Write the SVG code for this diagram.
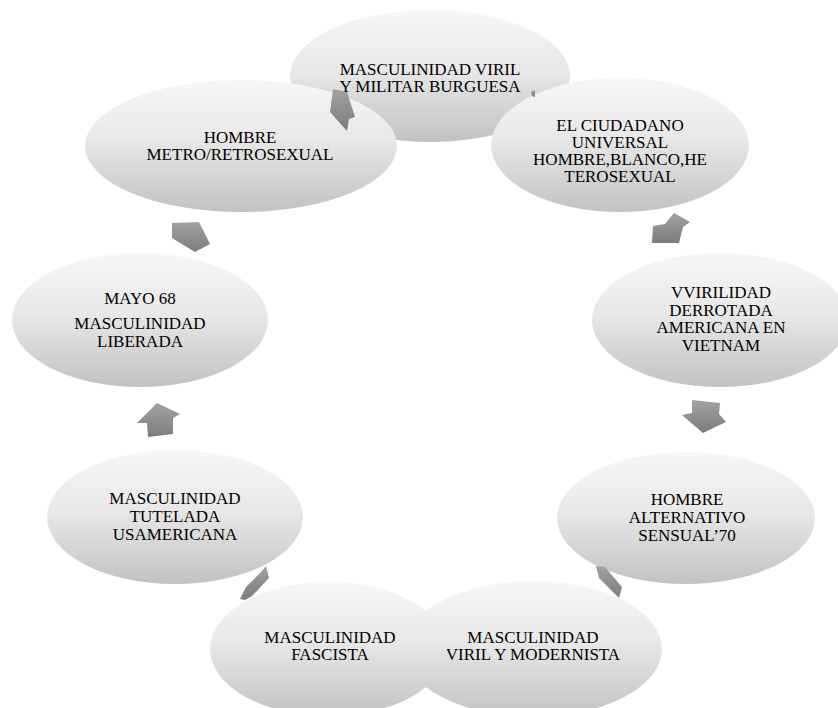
<svg xmlns="http://www.w3.org/2000/svg" width="838" height="708" viewBox="0 0 838 708">
  <defs>
    <linearGradient id="nodeFill" x1="0" y1="0" x2="0" y2="1">
      <stop offset="0" stop-color="#f7f7f7"/>
      <stop offset="0.45" stop-color="#e8e8e8"/>
      <stop offset="1" stop-color="#c2c2c2"/>
    </linearGradient>
    <linearGradient id="arrowFill" x1="0" y1="0" x2="0" y2="1">
      <stop offset="0" stop-color="#a2a2a2"/>
      <stop offset="1" stop-color="#7c7c7c"/>
    </linearGradient>
    <style>
      .node ellipse { fill: url(#nodeFill); stroke: none; }
      .node text { font-family: "Liberation Serif", "Times New Roman", serif; font-size: 17px; fill: #000; text-anchor: middle; }
      .arrow { fill: url(#arrowFill); stroke: none; }
    </style>
  </defs>

  <rect x="0" y="0" width="838" height="708" fill="#ffffff"/>

  <!-- cycle nodes, drawn in order so later ones overlap earlier ones -->
  <g id="node-militar" class="node">
    <ellipse cx="430" cy="76" rx="140" ry="66"/>
    <text x="430" y="74.5">MASCULINIDAD VIRIL</text>
    <text x="430" y="91.5">Y MILITAR BURGUESA</text>
  </g>

  <g id="node-ciudadano" class="node">
    <ellipse cx="620" cy="145" rx="129" ry="67"/>
    <text x="620" y="131">EL CIUDADANO</text>
    <text x="620" y="148">UNIVERSAL</text>
    <text x="620" y="165">HOMBRE,BLANCO,HE</text>
    <text x="620" y="182">TEROSEXUAL</text>
  </g>

  <g id="node-vietnam" class="node">
    <ellipse cx="720" cy="320" rx="128" ry="67"/>
    <text x="721" y="298">VVIRILIDAD</text>
    <text x="721" y="315.5">DERROTADA</text>
    <text x="721" y="333">AMERICANA EN</text>
    <text x="721" y="350.5">VIETNAM</text>
  </g>

  <g id="node-alternativo" class="node">
    <ellipse cx="686" cy="518" rx="129" ry="66"/>
    <text x="687" y="505">HOMBRE</text>
    <text x="687" y="523">ALTERNATIVO</text>
    <text x="687" y="541">SENSUAL’70</text>
  </g>

  <g id="node-modernista" class="node">
    <ellipse cx="533" cy="649" rx="129" ry="68"/>
    <text x="533" y="643">MASCULINIDAD</text>
    <text x="533" y="660">VIRIL Y MODERNISTA</text>
  </g>

  <g id="node-fascista" class="node">
    <ellipse cx="328.5" cy="649" rx="118.5" ry="67"/>
    <text x="330" y="643">MASCULINIDAD</text>
    <text x="330" y="660">FASCISTA</text>
  </g>

  <g id="node-tutelada" class="node">
    <ellipse cx="175" cy="517" rx="128" ry="67"/>
    <text x="175" y="504">MASCULINIDAD</text>
    <text x="175" y="522">TUTELADA</text>
    <text x="175" y="540">USAMERICANA</text>
  </g>

  <g id="node-mayo68" class="node">
    <ellipse cx="140" cy="320" rx="128" ry="67"/>
    <text x="140" y="304">MAYO 68</text>
    <text x="140" y="329">MASCULINIDAD</text>
    <text x="140" y="347">LIBERADA</text>
  </g>

  <g id="node-metro" class="node">
    <ellipse cx="241" cy="146" rx="156" ry="66"/>
    <text x="240" y="143">HOMBRE</text>
    <text x="240" y="160">METRO/RETROSEXUAL</text>
  </g>

  <!-- block arrows between neighbouring nodes -->
  <g id="connectors">
    <polygon class="arrow" points="531,92 535,90 535,97 532,96"/>
    <polygon class="arrow" points="674,213 690,222 683,227 679,243 652,243 653,226 665,224"/>
    <polygon class="arrow" points="692,400 720,403 719,414 726,422 703,433 682,415 692,413"/>
    <polygon class="arrow" points="596,566 605,567 622,587 619,598 599,578"/>
    <polygon class="arrow" points="240,599 246,587 260,573 266,566 269,578 252,596 245,600"/>
    <polygon class="arrow" points="157,403 180,414 173,418 173,434 148,437 147,423 137,423"/>
    <polygon class="arrow" points="172,223 199,222 210,244 195,252 172,238"/>
    <polygon class="arrow" points="333,89 347,92 355,117 349,119 347,131 330,112"/>
  </g>
</svg>
